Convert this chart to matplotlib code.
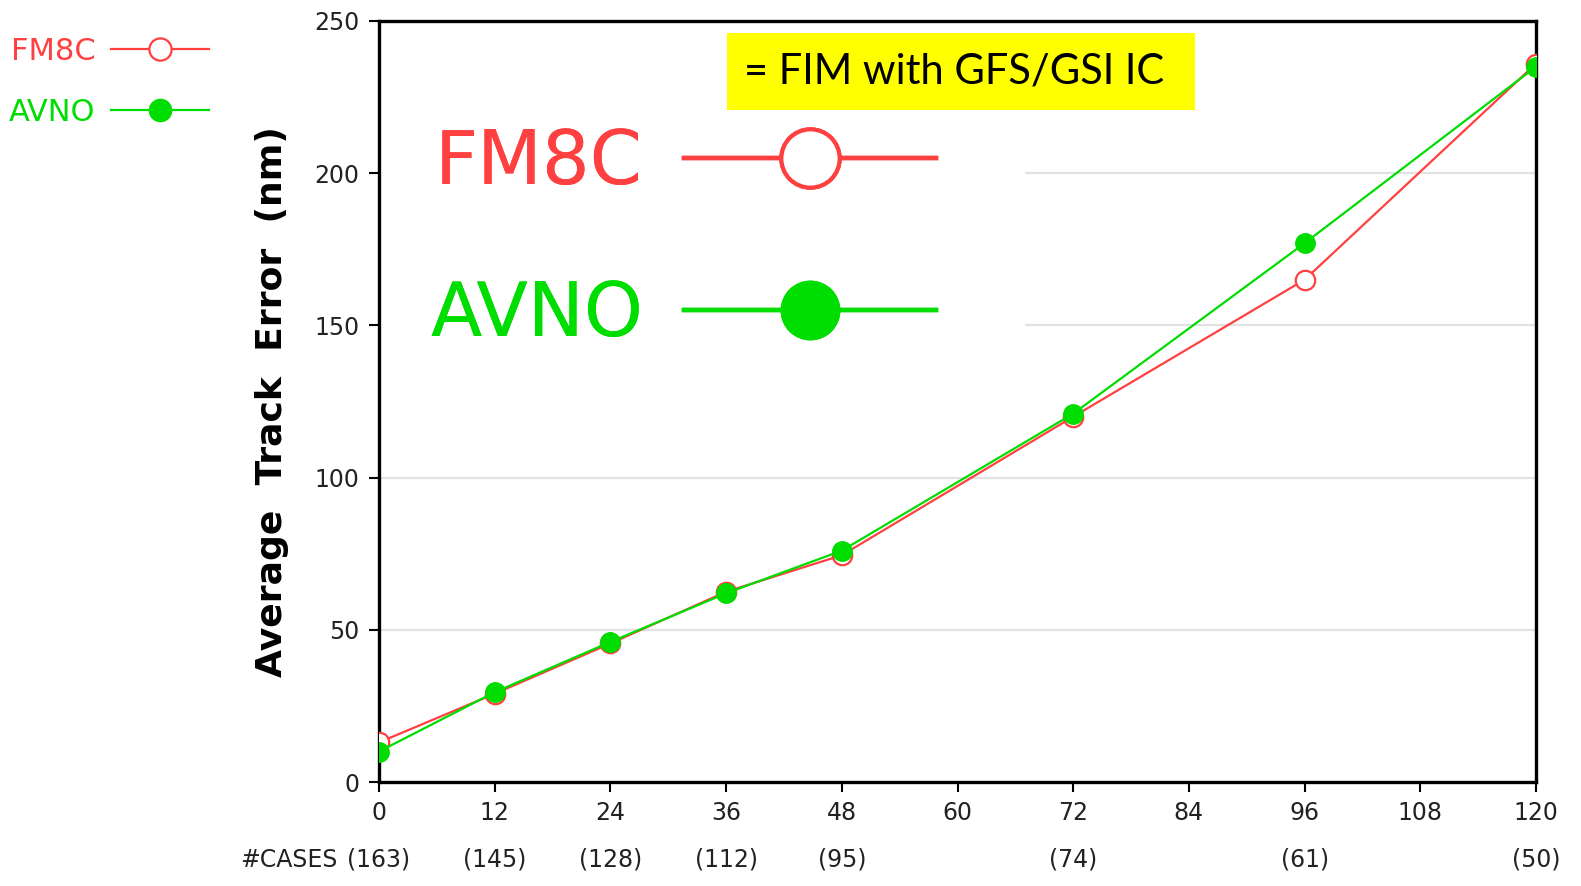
import matplotlib
matplotlib.use("Agg")
import matplotlib.pyplot as plt
from matplotlib.lines import Line2D
from matplotlib.patches import Rectangle
from matplotlib import font_manager
import matplotlib.transforms as mtransforms

# ---- data ----
hours = [0, 12, 24, 36, 48, 72, 96, 120]
cases = [163, 145, 128, 112, 95, 74, 61, 50]
fm8c = [13, 29, 45.5, 62.5, 74.5, 120, 165, 236]
avno = [10, 29.5, 46, 62, 76, 121, 177, 235]
xticks = [0, 12, 24, 36, 48, 60, 72, 84, 96, 108, 120]
yticks = [0, 50, 100, 150, 200, 250]
series_names = ["FM8C", "AVNO"]
ylabel = "Average  Track  Error  (nm)"
note = "= FIM with GFS/GSI IC"

RED = "#FF4040"
GREEN = "#00DD00"

avail = {f.name for f in font_manager.fontManager.ttflist}
pix = "DejaVu Sans"
note_font = "Lato" if "Lato" in avail else "DejaVu Sans"

W, H = 1581, 886
fig = plt.figure(figsize=(W / 100, H / 100), dpi=100)
ax = fig.add_axes([379 / W, 1 - 782 / H, (1536 - 379) / W, (782 - 21) / H])

ax.set_xlim(0, 120)
ax.set_ylim(0, 250)
for y in yticks[1:-1]:
    ax.axhline(y, color="#E2E2E2", lw=1.6, zorder=0)

# white area behind the big legend (hides grid lines there)
ax.add_patch(Rectangle((0, (782 - 350) / 761), (1025 - 379) / 1157, 240 / 761,
                       transform=ax.transAxes, fc="white", ec="none", zorder=1))

ax.plot(hours, fm8c, color=RED, lw=1.6, marker="o", ms=14, mfc="white",
        mec=RED, mew=1.6, zorder=3)
ax.plot(hours, avno, color=GREEN, lw=1.6, marker="o", ms=14, mfc=GREEN,
        mec=GREEN, zorder=4)

for s in ax.spines.values():
    s.set_linewidth(2.4)
    s.set_color("black")

ax.set_xticks(xticks)
ax.set_yticks(yticks)
ax.tick_params(axis="both", direction="out", length=7, width=1.5,
               labelsize=17, labelcolor="#222222", pad=7)
for lab in ax.get_xticklabels() + ax.get_yticklabels():
    lab.set_family(pix)

ax.set_ylabel(ylabel, fontsize=26, fontweight="bold", labelpad=18, family=pix)

# case counts row
trans = mtransforms.blended_transform_factory(ax.transData, ax.transAxes)
ry = -(860 - 782) / 761
for h, c in zip(hours, cases):
    ax.text(h, ry, f"({c})", transform=trans, ha="center", va="center",
            fontsize=17, color="#222222", family=pix)
ax.text(-4.3, ry, "#CASES", transform=trans, ha="right", va="center",
        fontsize=17, color="#222222", family=pix)

# yellow note
fig.add_artist(Rectangle((727 / W, 1 - 110 / H), 468 / W, 77 / H,
                         transform=fig.transFigure, fc="#FFFF00", ec="none"))
fig.text(954 / W, 1 - 72 / H, note, ha="center", va="center",
         fontsize=30, family=note_font, color="black")

# big legend inside axes
h_big = [
    Line2D([], [], color=RED, lw=3.2, marker="o", ms=42, mfc="white", mec=RED, mew=3),
    Line2D([], [], color=GREEN, lw=3.2, marker="o", ms=42, mfc=GREEN, mec=GREEN),
]
leg = ax.legend(h_big, series_names, loc="upper left",
                bbox_to_anchor=((430 - 379) / 1157, (782 - 127) / 761),
                markerfirst=False,
                prop={"family": pix, "size": 54}, handlelength=3.35,
                handletextpad=0.55, labelspacing=1.05, frameon=False,
                borderpad=0.0, borderaxespad=0.0)
for t, c in zip(leg.get_texts(), [RED, GREEN]):
    t.set_color(c)
leg.set_zorder(2)
ax.add_artist(leg)

# small legend top-left of figure
h_small = [
    Line2D([], [], color=RED, lw=1.6, marker="o", ms=16, mfc="white", mec=RED, mew=1.6),
    Line2D([], [], color=GREEN, lw=1.6, marker="o", ms=16, mfc=GREEN, mec=GREEN),
]
leg2 = fig.legend(h_small, series_names, loc="upper left",
                  bbox_to_anchor=(9 / W, 1 - 37 / H), markerfirst=False,
                  prop={"family": pix, "size": 22}, handlelength=3.2,
                  handletextpad=0.5, labelspacing=1.05, frameon=False,
                  borderpad=0.0, borderaxespad=0.0)
for t, c in zip(leg2.get_texts(), [RED, GREEN]):
    t.set_color(c)

fig.savefig("out.png", dpi=100)
